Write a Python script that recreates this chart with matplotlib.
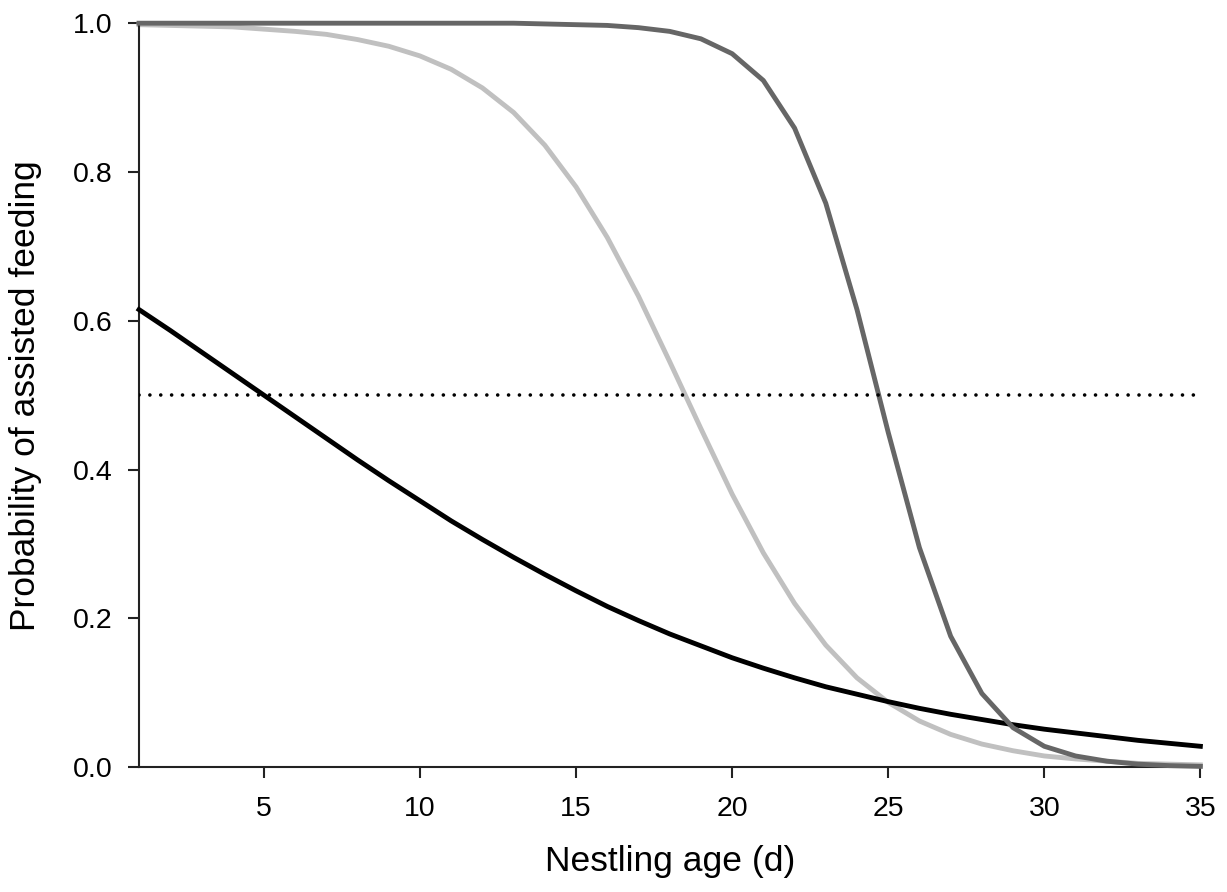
import matplotlib
matplotlib.use("Agg")
import matplotlib.pyplot as plt

plt.rcParams["font.family"] = ["Liberation Sans", "DejaVu Sans"]

# ── 数据───────────────────────────────────────────
age = list(range(1, 36))

p_black = [0.615, 0.587, 0.558, 0.529, 0.500, 0.471, 0.442, 0.413, 0.385, 0.358,
           0.331, 0.306, 0.282, 0.259, 0.237, 0.216, 0.197, 0.179, 0.163, 0.147,
           0.133, 0.120, 0.108, 0.098, 0.088, 0.079, 0.071, 0.064, 0.057, 0.051,
           0.046, 0.041, 0.036, 0.032, 0.028]

p_light = [0.998, 0.997, 0.996, 0.995, 0.992, 0.989, 0.985, 0.978, 0.969, 0.956,
           0.938, 0.913, 0.880, 0.836, 0.780, 0.712, 0.633, 0.545, 0.455, 0.367,
           0.288, 0.220, 0.164, 0.120, 0.087, 0.062, 0.044, 0.031, 0.022, 0.015,
           0.011, 0.008, 0.005, 0.004, 0.003]

p_dark = [1.000, 1.000, 1.000, 1.000, 1.000, 1.000, 1.000, 1.000, 1.000, 1.000,
          1.000, 1.000, 1.000, 0.999, 0.998, 0.997, 0.994, 0.989, 0.979, 0.959,
          0.923, 0.859, 0.758, 0.615, 0.450, 0.295, 0.176, 0.099, 0.053, 0.028,
          0.015, 0.008, 0.004, 0.002, 0.001]

threshold = 0.5

x_ticks = [5, 10, 15, 20, 25, 30, 35]
y_ticks = [0.0, 0.2, 0.4, 0.6, 0.8, 1.0]

# ── 画图 ─────────────────────────────────────────────────
fig = plt.figure(figsize=(12.27, 8.92), dpi=100)
ax = fig.add_axes([0.1133, 0.140, 0.865, 0.834])

ax.plot(age, p_light, color="#c0c0c0", linewidth=3.5, clip_on=False, zorder=2)
ax.plot(age, p_black, color="#000000", linewidth=3.5, clip_on=False, zorder=3)
ax.plot(age, p_dark, color="#666666", linewidth=3.5, clip_on=False, zorder=4)
ax.axhline(threshold, color="black", linewidth=2.6, linestyle=(0, (0.01, 3.0)),
           dash_capstyle="round", zorder=5)

ax.set_xlim(1, 35)
ax.set_ylim(0, 1)
ax.set_xticks(x_ticks)
ax.set_yticks(y_ticks)
ax.set_yticklabels([f"{v:.1f}" for v in y_ticks])

for side in ["top", "right"]:
    ax.spines[side].set_visible(False)
for side in ["left", "bottom"]:
    ax.spines[side].set_linewidth(1.5)
    ax.spines[side].set_color("#222222")

ax.tick_params(direction="out", length=8, width=1.5, color="#222222",
               labelsize=20.5)
ax.tick_params(axis="y", pad=11)
ax.tick_params(axis="x", pad=13)

ax.set_xlabel("Nestling age (d)", fontsize=25.5, labelpad=16)
ax.set_ylabel("Probability of assisted feeding", fontsize=25.5, labelpad=22)

fig.savefig("out.png", dpi=100)
plt.close(fig)
